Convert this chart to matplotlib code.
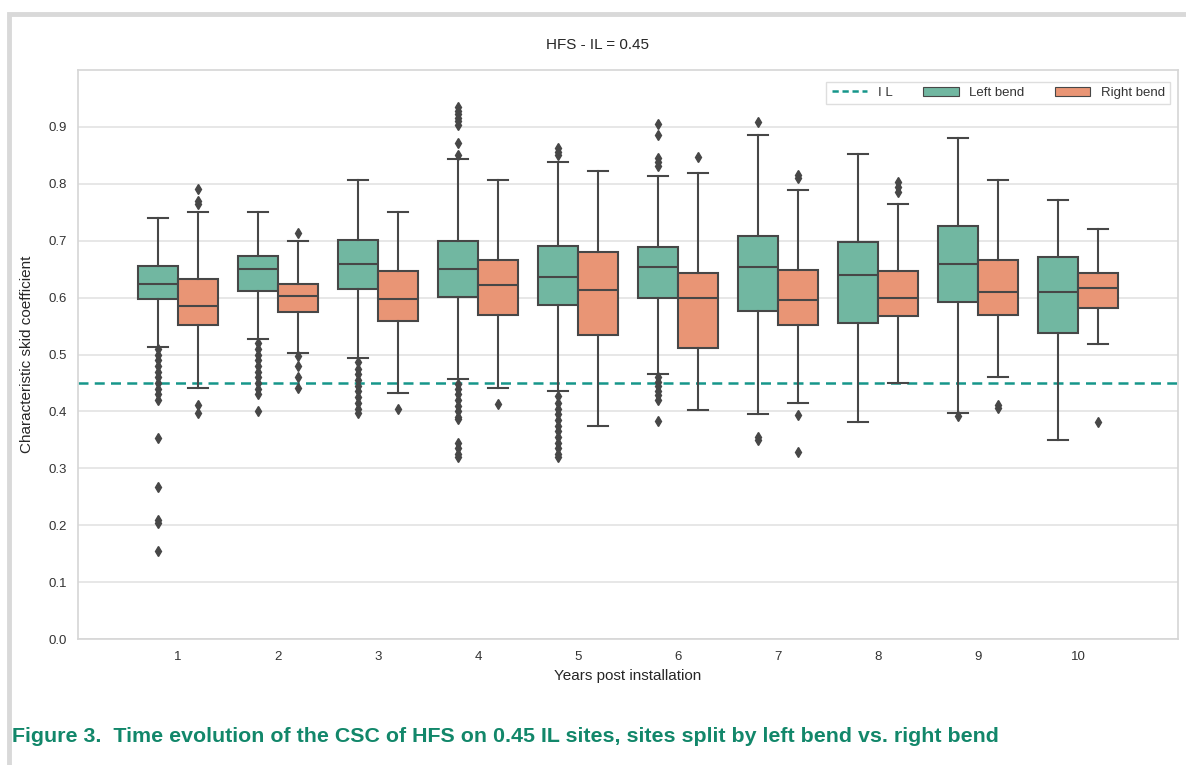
import matplotlib
matplotlib.use("Agg")
import matplotlib.pyplot as plt
from matplotlib.patches import Rectangle, Patch
from matplotlib.lines import Line2D

plt.rcParams['font.family'] = ['Liberation Sans', 'DejaVu Sans']

years = ["1", "2", "3", "4", "5", "6", "7", "8", "9", "10"]
il_value = 0.45

left_whislo = [0.514, 0.527, 0.494, 0.457, 0.436, 0.466, 0.396, 0.381, 0.398, 0.350]
left_q1 = [0.597, 0.612, 0.615, 0.601, 0.587, 0.599, 0.577, 0.555, 0.593, 0.538]
left_med = [0.624, 0.651, 0.659, 0.651, 0.636, 0.654, 0.654, 0.640, 0.659, 0.610]
left_q3 = [0.656, 0.673, 0.701, 0.700, 0.690, 0.689, 0.709, 0.698, 0.726, 0.671]
left_whishi = [0.740, 0.750, 0.806, 0.844, 0.839, 0.814, 0.886, 0.853, 0.880, 0.772]
left_fliers = [
    [0.51, 0.50, 0.49, 0.48, 0.47, 0.46, 0.45, 0.44, 0.43, 0.42, 0.353, 0.267, 0.21, 0.204, 0.154],
    [0.52, 0.51, 0.50, 0.49, 0.48, 0.47, 0.46, 0.45, 0.44, 0.43, 0.401],
    [0.486, 0.475, 0.465, 0.455, 0.445, 0.435, 0.425, 0.415, 0.405, 0.398],
    [0.935, 0.928, 0.922, 0.916, 0.91, 0.904, 0.871, 0.850, 0.449, 0.44, 0.43, 0.42, 0.41,
     0.40, 0.39, 0.386, 0.345, 0.335, 0.325, 0.320],
    [0.863, 0.856, 0.85, 0.427, 0.415, 0.405, 0.395, 0.385, 0.375, 0.365, 0.355, 0.345,
     0.335, 0.325, 0.320],
    [0.905, 0.885, 0.845, 0.838, 0.831, 0.461, 0.452, 0.444, 0.436, 0.428, 0.420, 0.383],
    [0.908, 0.355, 0.350],
    [],
    [0.392],
    [],
]

right_whislo = [0.442, 0.503, 0.432, 0.442, 0.375, 0.403, 0.414, 0.450, 0.460, 0.518]
right_q1 = [0.552, 0.574, 0.558, 0.570, 0.535, 0.511, 0.551, 0.567, 0.570, 0.581]
right_med = [0.585, 0.602, 0.598, 0.622, 0.614, 0.599, 0.595, 0.600, 0.610, 0.616]
right_q3 = [0.632, 0.624, 0.646, 0.666, 0.681, 0.643, 0.648, 0.647, 0.666, 0.643]
right_whishi = [0.750, 0.700, 0.750, 0.806, 0.822, 0.819, 0.789, 0.765, 0.807, 0.721]
right_fliers = [
    [0.790, 0.770, 0.765, 0.411, 0.398],
    [0.713, 0.497, 0.480, 0.461, 0.442],
    [0.405],
    [0.413],
    [],
    [0.847],
    [0.816, 0.811, 0.394, 0.329],
    [0.804, 0.795, 0.785],
    [0.411, 0.406],
    [0.381],
]

left_color = "#71b7a1"
right_color = "#e99575"
edge = "#474747"
il_color = "#16968a"
caption_color = "#12876a"

W, H = 1186, 765
fig = plt.figure(figsize=(W / 100, H / 100), dpi=100)

# outer frame
fig.patches.append(Rectangle((9 / W, -0.1), 2, (1 - 14 / H) + 0.1, transform=fig.transFigure,
                             fill=False, edgecolor="#d9d9d9", linewidth=3.5, zorder=0))

ax = fig.add_axes([78 / W, 1 - 639 / H, 1100 / W, 569 / H])


def make_stats(whislo, q1, med, q3, whishi, fliers):
    out = []
    for a, b, c, d, e, f in zip(whislo, q1, med, q3, whishi, fliers):
        out.append(dict(whislo=a, q1=b, med=c, q3=d, whishi=e, fliers=f))
    return out


props = dict(
    widths=0.4, capwidths=0.2, patch_artist=True, manage_ticks=False,
    boxprops=dict(edgecolor=edge, linewidth=1.5),
    medianprops=dict(color=edge, linewidth=1.5),
    whiskerprops=dict(color=edge, linewidth=1.5),
    capprops=dict(color=edge, linewidth=1.5),
    flierprops=dict(marker="d", markerfacecolor=edge, markeredgecolor=edge,
                    markersize=5.5, linestyle="none"),
)

n = len(years)
bl = ax.bxp(make_stats(left_whislo, left_q1, left_med, left_q3, left_whishi, left_fliers),
            positions=[i - 0.2 for i in range(n)], **props)
br = ax.bxp(make_stats(right_whislo, right_q1, right_med, right_q3, right_whishi, right_fliers),
            positions=[i + 0.2 for i in range(n)], **props)
for b in bl["boxes"]:
    b.set_facecolor(left_color)
for b in br["boxes"]:
    b.set_facecolor(right_color)

ax.axhline(il_value, color=il_color, linestyle=(0, (4, 2.5)), linewidth=1.8, zorder=1.5)

ax.set_xlim(-1, n)
ax.set_ylim(0, 1.0)
ax.set_xticks(range(n))
ax.set_xticklabels(years)
ax.set_yticks([0.0, 0.1, 0.2, 0.3, 0.4, 0.5, 0.6, 0.7, 0.8, 0.9])
ax.set_yticklabels(["0.0", "0.1", "0.2", "0.3", "0.4", "0.5", "0.6", "0.7", "0.8", "0.9"])
ax.tick_params(axis="both", length=0, labelsize=9.5, labelcolor="#333333")
ax.tick_params(axis="y", pad=8)
ax.tick_params(axis="x", pad=9)
ax.yaxis.grid(True, color="#e3e3e3", linewidth=1.2)
ax.set_axisbelow(True)
for s in ax.spines.values():
    s.set_color("#d6d6d6")
    s.set_linewidth(1.2)

ax.set_ylabel("Characteristic skid coefficient", fontsize=11, color="#262626", labelpad=10)
ax.set_xlabel("Years post installation", fontsize=11, color="#262626", labelpad=4)

fig.text(597 / W, 1 - 45 / H, "HFS - IL = 0.45", ha="center", va="center",
         fontsize=11, color="#262626")

handles = [
    Line2D([], [], color=il_color, linestyle=(0, (2.5, 1.5)), linewidth=1.8),
    Patch(facecolor=left_color, edgecolor=edge, linewidth=0.8),
    Patch(facecolor=right_color, edgecolor=edge, linewidth=0.8),
]
leg = ax.legend(handles, ["I L", "Left bend", "Right bend"], loc="upper right", ncol=3,
                fontsize=9.5, frameon=True, fancybox=False, edgecolor="#d6d6d6",
                borderaxespad=0.5, columnspacing=2.3, handlelength=2.7,
                bbox_to_anchor=(1 - 1 / 1100, 1 - 5 / 569))
for t in leg.get_texts():
    t.set_color("#333333")

fig.text(12 / W, 1 - 737 / H,
         "Figure 3.  Time evolution of the CSC of HFS on 0.45 IL sites, sites split by left bend vs. right bend",
         ha="left", va="center", fontsize=15.4, fontweight="bold", color=caption_color)

fig.savefig("out.png", dpi=100)
